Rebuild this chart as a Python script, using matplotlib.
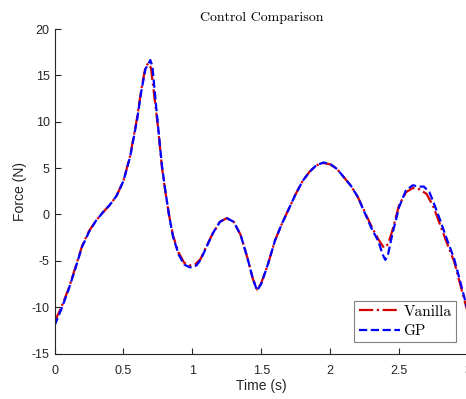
import numpy as np
import matplotlib.pyplot as plt
from matplotlib.ticker import FormatStrFormatter

# data (time in s, force in N)
t_vanilla = [0.00, 0.05, 0.10, 0.15, 0.20, 0.25, 0.30, 0.35, 0.40, 0.45,
             0.50, 0.55, 0.60, 0.63, 0.66, 0.68, 0.70, 0.72, 0.75, 0.78,
             0.80, 0.83, 0.86, 0.90, 0.94, 0.98, 1.02, 1.06, 1.10, 1.15,
             1.20, 1.25, 1.30, 1.35, 1.40, 1.44, 1.47, 1.50, 1.55, 1.60,
             1.65, 1.70, 1.75, 1.80, 1.85, 1.90, 1.95, 2.00, 2.05, 2.10,
             2.15, 2.20, 2.25, 2.30, 2.35, 2.39, 2.42, 2.45, 2.50, 2.55,
             2.60, 2.65, 2.70, 2.75, 2.80, 2.85, 2.90, 2.95, 3.00]
f_vanilla = [-11.6, -10.0, -8.1, -5.8, -3.4, -1.8, -0.7, 0.2, 1.0, 2.0,
             3.6, 6.4, 10.5, 13.5, 15.9, 16.3, 15.8, 13.3, 9.5, 5.0,
             2.9, 0.0, -2.3, -4.1, -5.2, -5.5, -5.4, -4.8, -3.5, -2.0,
             -0.8, -0.4, -0.8, -2.2, -4.7, -7.0, -8.1, -7.4, -5.3, -2.8,
             -1.0, 0.6, 2.2, 3.6, 4.6, 5.3, 5.55, 5.4, 4.9, 4.0,
             3.1, 1.9, 0.3, -1.3, -2.7, -3.6, -3.2, -1.8, 1.0, 2.4,
             2.85, 2.7, 2.2, 0.8, -1.2, -3.2, -5.1, -7.9, -10.7]

t_gp = [0.00, 0.05, 0.10, 0.15, 0.20, 0.25, 0.30, 0.35, 0.40, 0.45,
        0.50, 0.55, 0.60, 0.63, 0.66, 0.68, 0.695, 0.71, 0.73, 0.75, 0.78,
        0.80, 0.83, 0.86, 0.90, 0.94, 0.98, 1.00, 1.03, 1.06, 1.10, 1.15,
        1.20, 1.25, 1.30, 1.35, 1.40, 1.44, 1.47, 1.50, 1.55, 1.60,
        1.65, 1.70, 1.75, 1.80, 1.85, 1.90, 1.95, 2.00, 2.05, 2.10,
        2.15, 2.20, 2.25, 2.30, 2.35, 2.38, 2.40, 2.42, 2.45, 2.50, 2.55,
        2.60, 2.64, 2.68, 2.72, 2.75, 2.80, 2.85, 2.90, 2.95, 3.00]
f_gp = [-12.0, -10.2, -8.2, -5.9, -3.5, -1.9, -0.7, 0.2, 1.0, 2.0,
        3.6, 6.3, 10.3, 13.3, 15.7, 16.2, 16.65, 16.0, 12.8, 9.7, 5.2,
        3.0, 0.0, -2.4, -4.3, -5.4, -5.7, -5.7, -5.5, -4.9, -3.6, -2.0,
        -0.8, -0.4, -0.8, -2.2, -4.7, -7.0, -8.2, -7.5, -5.3, -2.8,
        -1.0, 0.6, 2.2, 3.6, 4.6, 5.3, 5.6, 5.45, 4.9, 4.0,
        3.1, 1.9, 0.2, -1.5, -2.9, -4.3, -4.9, -4.3, -2.2, 0.8, 2.6,
        3.15, 3.0, 3.0, 2.4, 1.3, -0.7, -2.8, -4.8, -7.6, -10.5]

x_ticks = [0, 0.5, 1, 1.5, 2, 2.5, 3]
y_ticks = [-15, -10, -5, 0, 5, 10, 15, 20]


def main():
    fig = plt.figure(figsize=(4.66, 3.99), dpi=100)
    ax = fig.add_axes([54.5 / 466, 45.5 / 399, 413.5 / 466, 324.5 / 399])

    ax.plot(t_vanilla, f_vanilla, color='#d40000', linestyle='-.', linewidth=1.6, label='Vanilla')
    ax.plot(t_gp, f_gp, color='#0000ff', linestyle='--', linewidth=1.6, label='GP')

    ax.set_xlim(0, 3)
    ax.set_ylim(-15, 20)
    ax.set_xticks(x_ticks)
    ax.set_yticks(y_ticks)
    ax.xaxis.set_major_formatter(FormatStrFormatter('%g'))
    ax.yaxis.set_major_formatter(FormatStrFormatter('%g'))

    for side in ['top', 'right']:
        ax.spines[side].set_visible(False)
    for side in ['left', 'bottom']:
        ax.spines[side].set_color('#262626')
        ax.spines[side].set_linewidth(0.8)
    ax.tick_params(direction='in', length=4, width=0.8, colors='#262626',
                   labelsize=9, labelcolor='#262626')
    ax.tick_params(axis='x', pad=8)
    for lab in ax.get_xticklabels() + ax.get_yticklabels():
        lab.set_fontfamily('Liberation Sans')

    ax.set_xlabel('Time (s)', fontsize=10, family='Liberation Sans', color='#262626', labelpad=2)
    ax.set_ylabel('Force (N)', fontsize=10, family='Liberation Sans', color='#262626', labelpad=3)
    ax.set_title('Control Comparison', fontsize=10, family='cmr10', pad=5.5)

    leg = ax.legend(loc='lower right', bbox_to_anchor=(0.971, 0.034),
                    prop={'family': 'cmr10', 'size': 11}, fancybox=False,
                    edgecolor='#808080', framealpha=1, handlelength=2.7,
                    handletextpad=0.2, borderpad=0.3, labelspacing=0.35,
                    borderaxespad=0)
    leg.get_frame().set_linewidth(0.8)

    fig.savefig('out.png', dpi=100)


if __name__ == "__main__":
    main()
